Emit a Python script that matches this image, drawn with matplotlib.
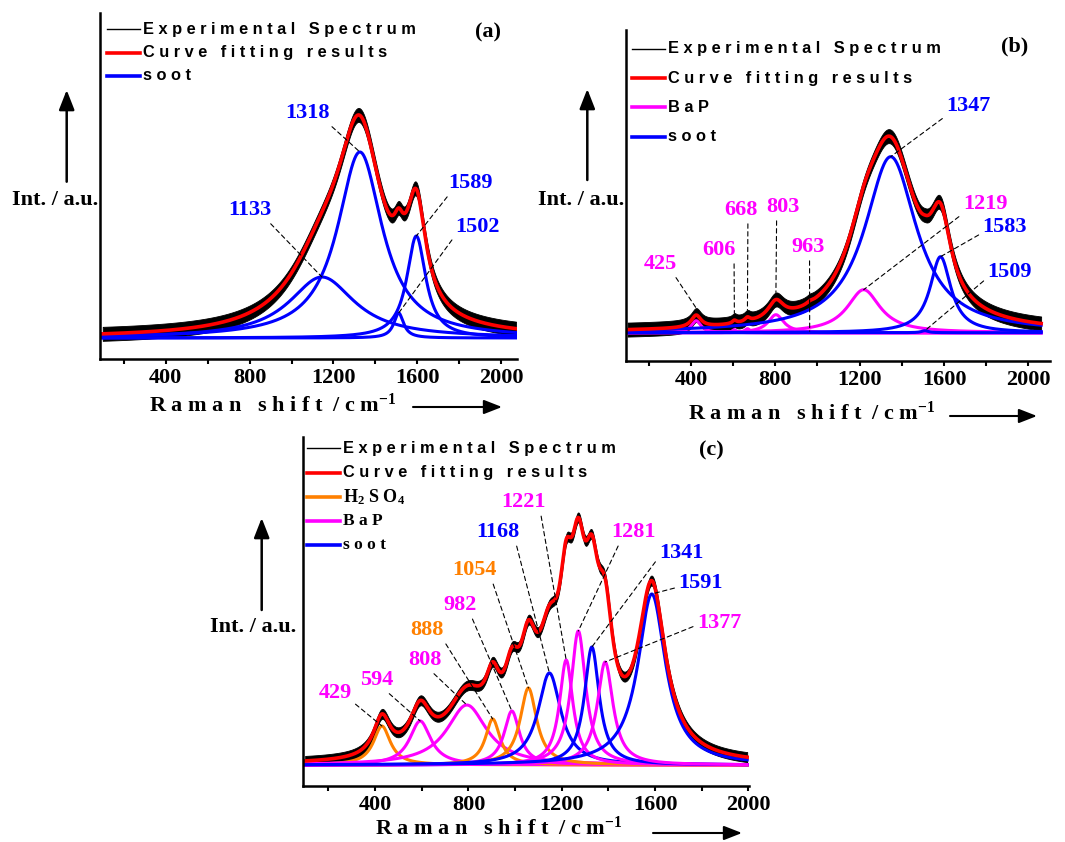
import numpy as np
import matplotlib
matplotlib.use("Agg")
import matplotlib.pyplot as plt
from matplotlib.lines import Line2D
from matplotlib.patches import FancyArrowPatch
from matplotlib.ticker import MultipleLocator

W, H = 1065, 842

species_colors = {"soot": "#0000ff", "BaP": "#ff00ff", "H2SO4": "#ff8000"}

########## data (intensity in a.u.) ##########

# (a) soot only
a_range = (100, 2070)
a_centers = [1145, 1326, 1511, 1595]
a_heights = [61, 186, 25, 102]
a_hwhm = [190, 130, 28, 55]
a_species = ["soot", "soot", "soot", "soot"]
a_labels = ["1133", "1318", "1502", "1589"]
a_noise = 7

# (b) soot + BaP
b_range = (100, 2060)
b_centers = [425, 606, 668, 803, 963, 1219, 1347, 1509, 1583]
b_heights = [12, 3, 4, 18, 1.5, 43, 176, 2, 76]
b_hwhm = [28, 12, 15, 45, 15, 95, 150, 20, 60]
b_species = ["BaP", "BaP", "BaP", "BaP", "BaP", "BaP", "soot", "soot", "soot"]
b_labels = ["425", "606", "668", "803", "963", "1219", "1347", "1509", "1583"]
b_noise = 7

# (c) soot + BaP + H2SO4
c_range = (100, 1995)
c_centers = [429, 593, 793, 904, 986, 1057, 1147, 1219, 1271, 1329, 1386, 1586]
c_heights = [39, 44, 60, 46, 54, 77, 92, 105, 134, 118, 103, 171]
c_hwhm = [44, 55, 104, 38, 40, 43, 59, 35, 38.5, 38.5, 41, 72]
c_species = ["H2SO4", "BaP", "BaP", "H2SO4", "BaP", "H2SO4",
             "soot", "BaP", "BaP", "soot", "BaP", "soot"]
c_labels = ["429", "594", "808", "888", "982", "1054",
            "1168", "1221", "1281", "1341", "1377", "1591"]
c_noise = 5

legend_names = ["Experimental Spectrum", "Curve fitting results"]

##################################################################

plt.rcParams["font.family"] = ["Liberation Serif", "DejaVu Serif"]
plt.rcParams["font.weight"] = "bold"
plt.rcParams["mathtext.default"] = "regular"

SANS = ["Liberation Sans", "DejaVu Sans"]
SERIF = ["Liberation Serif", "DejaVu Serif"]


def fpos(px, py):
    # picture pixels (top left origin) -> figure fraction
    return px / W, 1 - py / H


def spaced(s):
    return " ".join(s)


def lorentz_sum(x, centers, heights, hwhm):
    x = np.asarray(x, dtype=float)
    return sum(h / (1 + ((x - c) / w) ** 2) for c, h, w in zip(centers, heights, hwhm))


fig = plt.figure(figsize=(W / 100, H / 100), dpi=100)


def panel(rect, xlim, ylim, xr, centers, heights, hwhm, species, noise):
    ax = fig.add_axes(rect)
    xs = np.arange(xr[0], xr[1] + 1, 1.0)
    fit = lorentz_sum(xs, centers, heights, hwhm)
    # experimental spectrum: noisy trace shown as a band round the fit
    ax.fill_between(xs, fit - noise, fit + noise, facecolor="black",
                    edgecolor="black", lw=0.6)
    for c, h, w, sp in zip(centers, heights, hwhm, species):
        ax.plot(xs, lorentz_sum(xs, [c], [h], [w]), color=species_colors[sp], lw=2.2)
    ax.plot(xs, fit, color="red", lw=2.6)
    ax.set_xlim(xlim)
    ax.set_ylim(ylim)
    for s in ("top", "right"):
        ax.spines[s].set_visible(False)
    for s in ("left", "bottom"):
        ax.spines[s].set_linewidth(1.8)
    ax.set_yticks([])
    ax.xaxis.set_major_locator(MultipleLocator(400))
    ax.xaxis.set_minor_locator(MultipleLocator(200))
    ax.tick_params(axis="x", which="both", direction="out", length=3.5,
                   width=1.5, labelsize=16, pad=3)
    for t in ax.get_xticklabels():
        t.set_fontweight("bold")
    return ax


def label_peaks(ax, labels, centers, heights, hwhm, species, layout, noise, colors=None):
    for i, (lab, c, h) in enumerate(zip(labels, centers, heights)):
        tx, ty, rel, end = layout[i]
        if end == "fit":
            ey = lorentz_sum(c, centers, heights, hwhm) + noise
        else:
            ey = h
        col = colors[i] if colors else species_colors[species[i]]
        ax.annotate(lab, xy=(c, ey), xytext=(tx, ty), ha="center", va="center",
                    fontsize=16, fontweight="bold", color=col, annotation_clip=False,
                    arrowprops=dict(arrowstyle="-", color="black", lw=0.8,
                                    linestyle=(0, (4, 3)), relpos=rel,
                                    shrinkA=1, shrinkB=0))


def legend(entries, x0, y0, dy):
    for i, (label, color, lw, fam, size) in enumerate(entries):
        y = y0 + i * dy
        (fx0, fy), (fx1, _) = fpos(x0, y), fpos(x0 + 33, y)
        fig.add_artist(Line2D([fx0, fx1], [fy, fy], color=color, lw=lw,
                              transform=fig.transFigure))
        fig.text(*fpos(x0 + 36, y), label, family=fam, fontsize=size,
                 fontweight="bold", va="center", ha="left")


def axis_decor(letter, letter_xy, ylab_xy, up_x, up_y0, up_y1, xlab_xy, rx0, rx1, ry):
    fig.text(*fpos(*letter_xy), letter, family=SERIF, fontsize=16,
             fontweight="bold", ha="center", va="center")
    fig.text(*fpos(*ylab_xy), "Int. / a.u.", family=SERIF, fontsize=16,
             fontweight="bold", ha="center", va="center")
    fig.add_artist(FancyArrowPatch(fpos(up_x, up_y0), fpos(up_x, up_y1),
                                   transform=fig.transFigure,
                                   arrowstyle="-|>,head_length=1.2,head_width=0.47",
                                   mutation_scale=10, lw=1.8, color="black",
                                   shrinkA=0, shrinkB=0))
    fig.text(*fpos(*xlab_xy), "R a m a n   s h i f t  / c m$^{-1}$", family=SERIF,
             fontsize=16, fontweight="bold", ha="center", va="center")
    fig.add_artist(FancyArrowPatch(fpos(rx0, ry), fpos(rx1, ry),
                                   transform=fig.transFigure,
                                   arrowstyle="-|>,head_length=1.1,head_width=0.43",
                                   mutation_scale=10, lw=1.5, color="black",
                                   shrinkA=0, shrinkB=0))


# ---------------- panel (a) ----------------
ax_a = panel([100 / W, 1 - 359 / H, 417 / W, 346 / H], (87, 2075), (-21, 325),
             a_range, a_centers, a_heights, a_hwhm, a_species, a_noise)
label_peaks(ax_a, a_labels, a_centers, a_heights, a_hwhm, a_species,
            [(801, 128, (0.9, 0), "peak"), (1078, 225, (0.95, 0), "peak"),
             (1888, 111, (0, 0.1), "peak"), (1852, 155, (0.05, 0), "peak")], a_noise)
legend([(spaced(legend_names[0]), "black", 1.0, SANS, 11.8),
        (spaced(legend_names[1]), "red", 2.6, SANS, 11.8),
        (spaced("soot"), species_colors["soot"], 2.6, SANS, 11.8)], 107, 29.3, 23.3)
axis_decor("(a)", (488, 32), (55.5, 200), 66.7, 181.7, 90, (273, 405), 413, 502, 407)

# ---------------- panel (b) ----------------
ax_b = panel([625.7 / W, 1 - 361 / H, 424.3 / W, 331 / H], (91, 2102), (-28.3, 302.7),
             b_range, b_centers, b_heights, b_hwhm, b_species, b_noise)
label_peaks(ax_b, b_labels, b_centers, b_heights, b_hwhm, b_species,
            [(254, 69, (0.9, 0), "fit"), (535, 83, (0.94, 0), "fit"),
             (637, 123, (0.71, 0), "fit"), (838, 126, (0.3, 0), "fit"),
             (956, 86, (0.54, 0), "peak"), (1794, 129, (0, 0), "peak"),
             (1715, 227, (0, 0), "peak"), (1911, 61, (0, 0.2), "peak"),
             (1888, 106, (0, 0.2), "peak")], b_noise)
legend([(spaced(legend_names[0]), "black", 1.0, SANS, 11.8),
        (spaced(legend_names[1]), "red", 2.6, SANS, 11.8),
        (spaced("BaP"), species_colors["BaP"], 2.6, SANS, 11.8),
        (spaced("soot"), species_colors["soot"], 2.6, SANS, 11.8)], 631.7, 49, 29.2)
axis_decor("(b)", (1015, 46.7), (580.8, 200), 587.3, 180, 89, (812, 413), 950, 1037, 416)

# ---------------- panel (c) ----------------
ax_c = panel([303.3 / W, 1 - 786 / H, 446 / W, 349.3 / H], (92, 2004), (-21, 328.3),
             c_range, c_centers, c_heights, c_hwhm, c_species, c_noise)
c_label_colors = [species_colors[s] for s in c_species]
c_label_colors[0] = species_colors["BaP"]
label_peaks(ax_c, c_labels, c_centers, c_heights, c_hwhm, c_species,
            [(228, 72, (1, 0.1), "peak"), (407, 85, (0.75, 0), "peak"),
             (614, 105, (0.65, 0), "peak"), (621, 135, (1, 0), "peak"),
             (764, 160, (0.82, 0), "peak"), (824, 195, (0.9, 0), "peak"),
             (928, 233, (0.9, 0), "peak"), (1036, 263, (0.88, 0), "peak"),
             (1507, 233, (0.2, 0), "peak"), (1712, 212, (0, 0.3), "peak"),
             (1875, 142, (0, 0.4), "peak"), (1796, 182, (0, 0.3), "peak")],
            c_noise, colors=c_label_colors)
legend([(spaced(legend_names[0]), "black", 1.0, SANS, 11.8),
        (spaced(legend_names[1]), "red", 2.6, SANS, 11.8),
        ("H$_2$ S O$_4$", species_colors["H2SO4"], 2.6, SERIF, 13),
        (spaced("BaP"), species_colors["BaP"], 2.6, SERIF, 12.5),
        (spaced("soot"), species_colors["soot"], 2.6, SERIF, 12.5)], 306.7, 448.3, 24.2)
axis_decor("(c)", (711, 450), (253.3, 626.7), 261.7, 610, 518, (499, 828), 653, 742, 833)

fig.savefig("out.png", dpi=100)
